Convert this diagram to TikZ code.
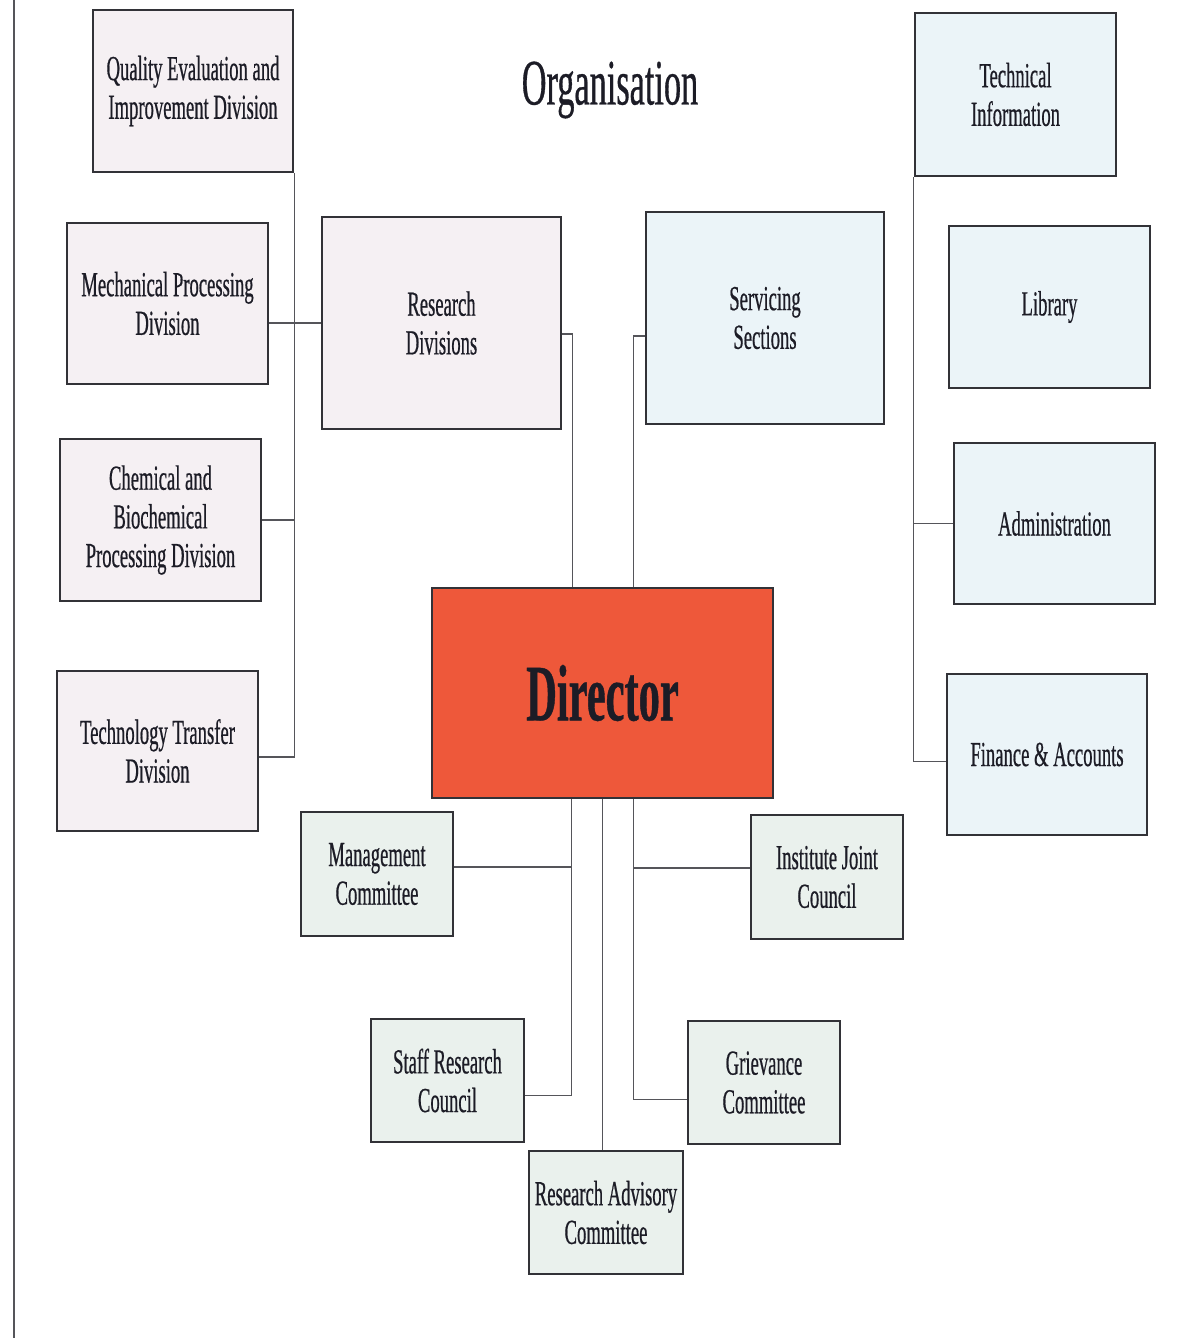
\documentclass[tikz,border=0pt]{standalone}
\usepackage{fontspec}
\setmainfont{Liberation Serif}[FakeStretch=0.53, FakeBold=0.5]
\usetikzlibrary{calc}

\definecolor{divfill}{RGB}{245,240,243}
\definecolor{servfill}{RGB}{235,244,248}
\definecolor{commfill}{RGB}{234,241,237}
\definecolor{dirfill}{RGB}{238,88,58}
\definecolor{edge}{RGB}{50,50,55}
\definecolor{wire}{RGB}{85,85,90}
\definecolor{ink}{RGB}{28,28,38}

\tikzset{
    unit/.style={draw=edge, line width=1.7pt, align=center, inner sep=0pt, text=ink,
        font=\fontsize{25}{27.5}\selectfont},
    size/.style 2 args={minimum width={#1*0.025cm}, minimum height={#2*0.025cm}},
    division/.style={unit, fill=divfill},
    service/.style={unit, fill=servfill},
    committee/.style={unit, fill=commfill},
    link/.style={draw=wire, line width=0.8pt}
}

\begin{document}
\begin{tikzpicture}[x=0.025cm, y=-0.025cm]
    \useasboundingbox (0,0) rectangle (1192,1338);
    \draw[wire, line width=1.3pt] (14,0) -- (14,1338);

    \node[text=ink, font=\fontsize{46}{50}\selectfont] (title) at (610, 90) {Organisation};

    % research side
    \node[division, size={200}{162}] (quality) at (193, 91) {Quality Evaluation and\\Improvement Division};
    \node[division, size={201}{161}] (mech) at (167.5, 303.5) {Mechanical Processing\\Division};
    \node[division, size={201}{162}] (chem) at (160.5, 520) {Chemical and\\Biochemical\\Processing Division};
    \node[division, size={201}{160}] (transfer) at (157.5, 751) {Technology Transfer\\Division};
    \node[division, size={239}{212}] (research) at (441.5, 323) {Research\\Divisions};

    % servicing side
    \node[service, size={238}{212}] (servicing) at (765, 318) {Servicing\\Sections};
    \node[service, size={201}{163}] (techinfo) at (1015.5, 94.5) {Technical\\Information};
    \node[service, size={201}{162}] (library) at (1049.5, 307) {Library};
    \node[service, size={201}{161}] (admin) at (1054.5, 523.5) {Administration};
    \node[service, size={200}{161}] (finance) at (1047, 754.5) {Finance \& Accounts};

    \node[unit, fill=dirfill, size={341}{210}, font=\fontsize{57}{60}\selectfont\bfseries] (director) at (602.5, 693) {Director};

    % committees
    \node[committee, size={152}{124}] (mgmt) at (377, 874) {Management\\Committee};
    \node[committee, size={152}{124}] (ijc) at (827, 877) {Institute Joint\\Council};
    \node[committee, size={153}{123}] (staff) at (447.5, 1080.5) {Staff Research\\Council};
    \node[committee, size={152}{123}] (grievance) at (764, 1082.5) {Grievance\\Committee};
    \node[committee, size={154}{123}] (advisory) at (606, 1212.5) {Research Advisory\\Committee};

    \coordinate (leftdrop) at ($(director.south)+(-31,0)$);
    \coordinate (rightdrop) at ($(director.south)+(31,0)$);

    % Draw the edges between nodes
    \draw[link] (quality.south east) |- ($(transfer.east)+(0,6)$);
    \draw[link] (research.west) -- (research.west -| mech.east);
    \draw[link] (chem.east) -- (chem.east -| quality.south east);
    \draw[link] ($(research.east)+(0,11)$) -| ($(director.north)+(-30,0)$);
    \draw[link] ($(servicing.west)+(0,18)$) -| ($(director.north)+(31,0)$);
    \draw[link] (techinfo.south west) |- ($(finance.west)+(0,7)$);
    \draw[link] ($(servicing.east)+(0,12)$) -- ($(servicing.east)+(0,12)$ -| library.west);
    \draw[link] (admin.west) -- (admin.west -| techinfo.south west);
    \draw[link] (leftdrop) |- ($(staff.east)+(0,15)$);
    \draw[link] ($(mgmt.east)+(0,-7)$) -| (leftdrop);
    \draw[link] (director.south) -- (director.south |- advisory.north);
    \draw[link] (rightdrop) |- ($(grievance.west)+(0,17)$);
    \draw[link] ($(ijc.west)+(0,-9)$) -| (rightdrop);
\end{tikzpicture}
\end{document}
